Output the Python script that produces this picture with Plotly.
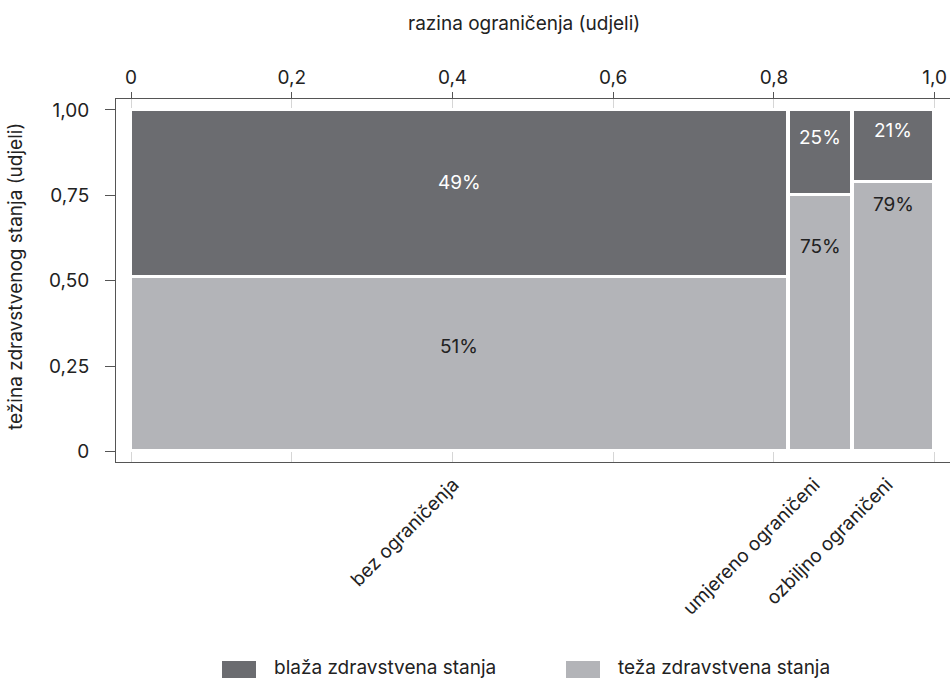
import plotly.graph_objects as go

# ---------------- data ----------------
categories = ["bez ograničenja", "umjereno ograničeni", "ozbiljno ograničeni"]
column_share = [0.817, 0.0785, 0.1]          # širina stupca (udjeli)
blaza = [0.49, 0.25, 0.21]                    # blaža zdravstvena stanja
teza = [0.51, 0.75, 0.79]                     # teža zdravstvena stanja
series_names = ["blaža zdravstvena stanja", "teža zdravstvena stanja"]
top_tickvals = [0, 0.2, 0.4, 0.6, 0.8, 1.0]
top_ticktext = ["0", "0,2", "0,4", "0,6", "0,8", "1,0"]
y_tickvals = [0, 0.25, 0.5, 0.75, 1.0]
y_ticktext = ["0", "0,25", "0,50", "0,75", "1,00"]

# ---------------- style / layout ----------------
DARK = "#6b6c70"
LIGHT = "#b3b4b8"
GRID = "#d6d6d6"
AXIS = "#555555"
TXT = "#222222"
FONT = "Inter"
FS = 19
COL_GAP = 0.0015
# vertical label positions inside each segment (teža row, blaža row)
label_y_teza = [0.307, 0.600, 0.724]
label_y_blaza = [0.787, 0.920, 0.940]

W, H = 950, 678
# target plot area on screen: x 116..950, y 99..462
ML, MT = 116, 99
MR = W - 950
MB = H - 462
X_RANGE = [-0.0187, 1.019]
Y_RANGE = [-0.031, 1.032]

# column geometry
lefts = []
pos = 0.0
for s in column_share:
    lefts.append(pos)
    pos += s + COL_GAP
centers = [l + s / 2 for l, s in zip(lefts, column_share)]

fig = go.Figure()
fig.add_trace(go.Bar(
    x=centers, y=teza, base=[0] * len(teza), width=column_share,
    marker=dict(color=LIGHT, line=dict(color="white", width=3)),
    name=series_names[1], showlegend=False, hoverinfo="skip",
))
fig.add_trace(go.Bar(
    x=centers, y=blaza, base=teza, width=column_share,
    marker=dict(color=DARK, line=dict(color="white", width=3)),
    name=series_names[0], showlegend=False, hoverinfo="skip",
))
# invisible trace to activate the top axis
fig.add_trace(go.Scatter(x=[0, 1], y=[0, 0], xaxis="x2", mode="markers",
                         marker=dict(opacity=0), showlegend=False, hoverinfo="skip"))

annotations = []
for c, v, yy in zip(centers, teza, label_y_teza):
    annotations.append(dict(x=c, y=yy, xref="x", yref="y", text=f"{round(v*100)}%",
                            showarrow=False, xanchor="center", yanchor="middle",
                            font=dict(family=FONT, size=FS, color=TXT)))
for c, v, yy in zip(centers, blaza, label_y_blaza):
    annotations.append(dict(x=c, y=yy, xref="x", yref="y", text=f"{round(v*100)}%",
                            showarrow=False, xanchor="center", yanchor="middle",
                            font=dict(family=FONT, size=FS, color="white")))

PW = W - ML - MR
PH = H - MT - MB


def px(xs):
    """screen x pixel -> paper"""
    return (xs - ML) / PW


def py(ys):
    """screen y pixel -> paper"""
    return (H - MB - ys) / PH


# axis titles
annotations.append(dict(x=px(524), y=py(23), xref="paper", yref="paper",
                        xanchor="center", yanchor="middle",
                        text="razina ograničenja (udjeli)", showarrow=False,
                        font=dict(family=FONT, size=FS, color=TXT)))
annotations.append(dict(x=px(15), y=py(277), xref="paper", yref="paper", textangle=-90,
                        xanchor="center", yanchor="middle",
                        text="težina zdravstvenog stanja (udjeli)", showarrow=False,
                        font=dict(family=FONT, size=FS, color=TXT)))

# legend drawn manually
shapes = []
legend_items = [(222, DARK, series_names[0]), (566, LIGHT, series_names[1])]
for x0, col, name in legend_items:
    shapes.append(dict(type="rect", xref="paper", yref="paper",
                       x0=px(x0), x1=px(x0 + 34), y0=py(661), y1=py(690),
                       fillcolor=col, line=dict(width=0)))
    annotations.append(dict(x=px(x0 + 50), y=py(667), xref="paper", yref="paper",
                            xanchor="left", yanchor="middle", text=name, showarrow=False,
                            font=dict(family=FONT, size=FS, color=TXT)))

fig.update_layout(
    width=W, height=H,
    margin=dict(l=ML, r=MR, t=MT, b=MB, autoexpand=False),
    plot_bgcolor="white", paper_bgcolor="white",
    barmode="overlay", bargap=0,
    font=dict(family=FONT, size=FS, color=TXT),
    xaxis=dict(range=X_RANGE, tickvals=centers, ticktext=categories, tickangle=-45,
               showgrid=False, zeroline=False, showline=True, linecolor=AXIS, linewidth=1,
               ticks="", automargin=False, ticklabelstandoff=3, ticklabelshift=-6,
               tickfont=dict(family=FONT, size=FS, color=TXT)),
    xaxis2=dict(range=X_RANGE, overlaying="x", side="top", tickvals=top_tickvals,
                ticktext=top_ticktext, showgrid=True, gridcolor=GRID, gridwidth=1,
                zeroline=False, showline=True, linecolor=AXIS, linewidth=1,
                ticks="outside", ticklen=6, tickcolor=AXIS, automargin=False,
                layer="below traces",
                tickfont=dict(family=FONT, size=FS, color=TXT)),
    yaxis=dict(range=Y_RANGE, tickvals=y_tickvals, ticktext=y_ticktext,
               showgrid=False, zeroline=False, showline=True, linecolor=AXIS, linewidth=1,
               ticks="outside", ticklen=10, tickcolor=AXIS, ticklabelstandoff=12,
               automargin=False,
               tickfont=dict(family=FONT, size=FS, color=TXT)),
    annotations=annotations, shapes=shapes,
)

fig.write_html(
    "out.html",
    config={"displayModeBar": False},
    post_script="document.body.style.margin='0';document.body.style.overflow='hidden';",
)
